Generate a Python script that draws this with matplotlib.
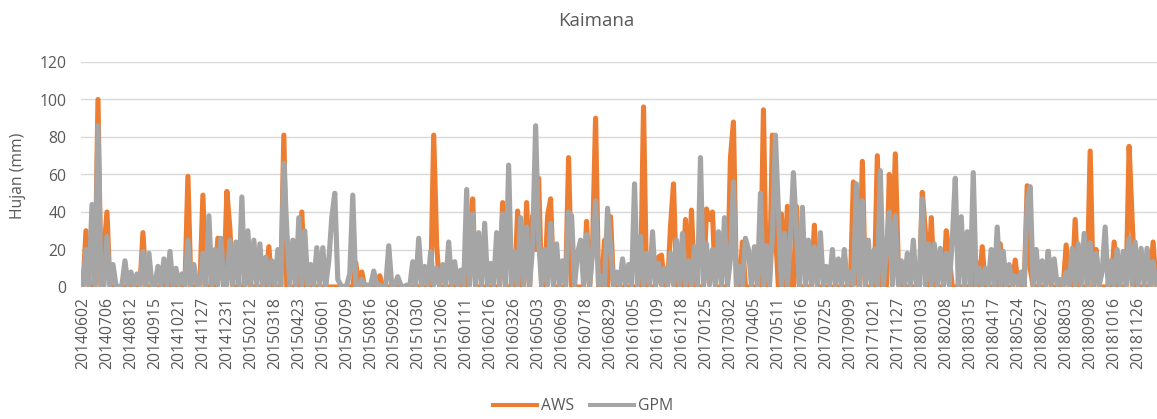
import matplotlib
matplotlib.use("Agg")
import matplotlib.pyplot as plt
from matplotlib.lines import Line2D

plt.rcParams['font.family'] = ['Open Sans', 'DejaVu Sans']

title = "Kaimana"
ylabel = "Hujan (mm)"
series_names = ["AWS", "GPM"]

tick_labels = ["20140602", "20140706", "20140812", "20140915", "20141021", "20141127",
               "20141231", "20150212", "20150318", "20150423", "20150601", "20150709",
               "20150816", "20150926", "20151030", "20151206", "20160111", "20160216",
               "20160326", "20160503", "20160609", "20160718", "20160829", "20161005",
               "20161109", "20161218", "20170125", "20170302", "20170405", "20170511",
               "20170616", "20170725", "20170909", "20171021", "20171127", "20180103",
               "20180208", "20180315", "20180417", "20180524", "20180627", "20180803",
               "20180908", "20181016", "20181126"]
label_step = 8

aws = [0, 30, 0, 0, 0, 100, 0, 20,
       40, 0, 0, 0, 0, 0, 0, 0,
       0, 0, 0, 0, 29, 0, 0, 0,
       0, 0, 0, 0, 13, 0, 0, 0,
       0, 0, 0, 59, 0, 0, 0, 0,
       49, 0, 0, 0, 0, 26, 25, 0,
       51, 31, 0, 0, 0, 0, 0, 18,
       0, 0, 0, 0, 0, 0, 21.5, 0,
       0, 0, 0, 81, 0, 0, 0, 0,
       0, 40, 0, 0, 0, 0, 0, 0,
       0, 0, 0, 0, 0, 0, 0, 0,
       0, 0, 0, 13, 0, 8, 0, 0,
       0, 0, 0, 6, 0, 0, 0, 0,
       0, 0, 0, 0, 0, 0, 0, 0,
       0, 0, 0, 0, 0, 81, 21.5, 0,
       0, 0, 0, 0, 0, 8, 0, 0,
       0, 19, 47, 0, 0, 0, 0, 0,
       0, 0, 0, 0, 45, 0, 0, 0,
       0, 40.5, 0, 0, 45, 0, 38, 20,
       58, 0, 0, 38, 47, 0, 0, 0,
       0, 0, 69, 0, 0, 0, 0, 0,
       35, 0, 21.5, 90, 0, 0, 25, 0,
       37.5, 0, 0, 0, 0, 0, 0, 0,
       0, 0, 0, 96, 0, 0, 0, 0,
       16, 17, 0, 0, 32, 55, 0, 0,
       0, 36, 0, 41, 0, 0, 0, 0,
       41.6, 36, 40, 0, 0, 0, 0, 0,
       69, 88, 0, 0, 24, 0, 0, 0,
       0, 0, 0, 94.5, 0, 0, 81, 30,
       0, 39, 0, 43, 0, 0, 43, 0,
       0, 0, 0, 0, 33, 0, 0, 0,
       0, 0, 0, 0, 0, 0, 0, 0,
       0, 56, 8, 0, 67, 0, 0, 0,
       0, 70, 0, 0, 0, 60, 20, 71,
       10, 0, 0, 0, 0, 0, 0, 0,
       50.5, 30, 0, 37, 0, 0, 0, 0,
       30, 16, 0, 0, 0, 0, 0, 0,
       0, 0, 13.5, 0, 21.5, 0, 0, 0,
       0, 0, 23, 0, 0, 0, 0, 14.4,
       0, 0, 0, 54, 10, 0, 0, 0,
       0, 0, 19, 0, 0, 0, 0, 0,
       22.4, 0, 0, 36, 0, 0, 0, 0,
       72.5, 0, 20, 0, 0, 0, 0, 0,
       24, 0, 0, 0, 0, 75, 36, 0,
       0, 0, 0, 0, 0, 24, 0]

gpm = [1, 20, 1, 44, 1, 86, 1, 1,
       27, 1, 12, 1, 0, 1, 14, 1,
       8, 1, 7, 1, 19, 1, 18, 1,
       1, 11, 1, 15, 1, 19, 1, 10,
       1, 7, 1, 25, 1, 12, 1, 1,
       18, 1, 38, 1, 20, 1, 26, 1,
       1, 25, 1, 24, 1, 48, 1, 30,
       1, 25, 1, 23, 1, 16, 1, 14,
       1, 20, 1, 66, 30, 1, 25, 1,
       37, 1, 30, 1, 12, 1, 21, 1,
       21, 1, 14, 37, 50, 4, 1, 0,
       1, 7, 49, 1, 1, 4, 1, 1,
       1, 8.5, 1, 1, 0, 1, 22, 1,
       1, 5.5, 1, 0, 1, 0, 13.5, 1,
       26, 1, 11, 1, 19, 1, 10, 1,
       12, 1, 24, 1, 13.5, 1, 9, 1,
       52, 1, 39, 1, 29, 1, 34, 1,
       12.6, 1, 29, 1, 39, 1, 65, 1,
       19, 1, 37, 1, 32, 1, 22, 86,
       25, 1, 20, 1, 34, 1, 23, 1,
       14, 1, 40, 38, 1, 18, 25, 1,
       28, 1, 18, 46, 1, 5.5, 1, 42,
       21.5, 1, 8, 1, 15, 1, 12, 1,
       55, 1, 27, 1, 18, 1, 29.5, 1,
       12.6, 1, 10, 1, 18, 1, 25, 1,
       28.6, 1, 14, 1, 21.5, 1, 69, 1,
       23, 1, 20, 1, 29.5, 1, 37, 1,
       15, 56, 1, 11, 1, 26, 20, 1,
       21.5, 1, 50, 1, 22, 1, 28, 81,
       40, 1, 28.6, 1, 26, 61, 30, 1,
       42.5, 1, 25, 1, 21.5, 1, 29, 1,
       11, 1, 20, 1, 15, 1, 20, 1,
       8, 1, 55, 1, 46, 1, 25, 1,
       20, 1, 62, 1, 20, 40, 1, 38,
       1, 14, 1, 18, 1, 25, 1, 1,
       47, 1, 23, 1, 23, 1, 20.6, 1,
       18, 1, 25, 58, 1, 37.5, 1, 29.5,
       1, 61, 1, 10, 1, 10, 1, 20,
       1, 32, 1, 19, 1, 12, 1, 6,
       1, 8, 1, 45, 53.5, 1, 20, 1,
       14, 1, 19, 1, 15, 1, 4, 1,
       8, 1, 20.6, 1, 23, 1, 28.6, 1,
       23.6, 1, 18, 1, 8, 32, 1, 14,
       1, 20, 1, 19, 1, 26, 1, 24,
       1, 20.6, 1, 20.6, 1, 13.5, 1]

yticks = [0, 20, 40, 60, 80, 100, 120]

aws_color = "#ED7D31"
gpm_color = "#A5A5A5"
text_color = "#595959"

W, H = 1157, 419
fig = plt.figure(figsize=(W / 100, H / 100), dpi=100)
ax = fig.add_axes([81.5 / W, 132 / H, (W - 81.5) / W, 225 / H])

x = list(range(len(aws)))
lw = 3.7
ax.plot(x, aws, color=aws_color, lw=lw, solid_joinstyle='round', solid_capstyle='round', zorder=3)
ax.plot(x, gpm, color=gpm_color, lw=lw, solid_joinstyle='round', solid_capstyle='round', zorder=4)

ax.set_xlim(-0.5, len(aws) - 1 + 0.3)
ax.set_ylim(0, 120)
ax.set_yticks(yticks)
ax.set_yticklabels([str(v) for v in yticks])
ax.set_xticks([i * label_step for i in range(len(tick_labels))])
ax.set_xticklabels(tick_labels, rotation=90)
ax.tick_params(axis='both', length=0, labelsize=11.3, labelcolor=text_color)
ax.tick_params(axis='y', pad=11)
ax.tick_params(axis='x', pad=7)
for s in ax.spines.values():
    s.set_visible(False)
ax.yaxis.grid(True, color='#d9d9d9', lw=1.0, zorder=0)
ax.set_axisbelow(True)

fig.text(596 / W, 1 - 21 / H, title, ha='center', va='center', fontsize=13.5, color=text_color)
fig.text(18 / W, 1 - 176 / H, ylabel, ha='center', va='center', rotation=90, fontsize=11.3, color=text_color)

handles = [Line2D([0], [0], color=aws_color, lw=2.9), Line2D([0], [0], color=gpm_color, lw=2.9)]
fig.legend(handles, series_names, loc='center', bbox_to_anchor=(583 / W, 1 - 406 / H), ncol=2,
           frameon=False, fontsize=11.3, handlelength=2.8, handletextpad=0.25, columnspacing=1.0,
           labelcolor=text_color)

fig.savefig("out.png", dpi=100)
